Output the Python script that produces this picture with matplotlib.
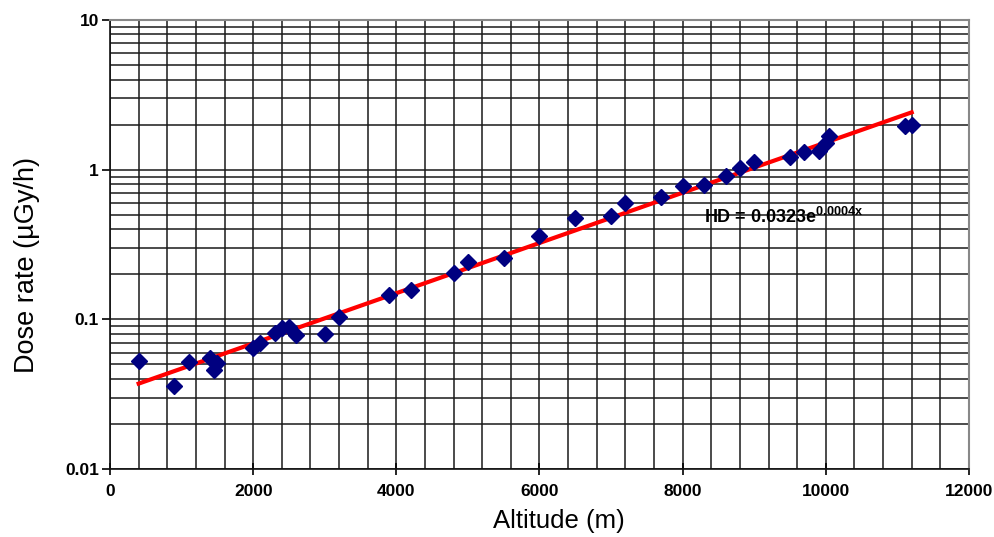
import numpy as np
import matplotlib
matplotlib.use('Agg')
import matplotlib.pyplot as plt
from matplotlib.ticker import MultipleLocator, LogLocator, FixedLocator, NullFormatter

plt.rcParams['font.family'] = ['Liberation Sans', 'DejaVu Sans']

# measured dose rate against flight altitude
altitude = [400, 900, 1100, 1400, 1450, 1500, 2000, 2100, 2300, 2400, 2500, 2600,
            3000, 3200, 3900, 4200, 4800, 5000, 5500, 6000, 6500, 7000, 7200, 7700,
            8000, 8300, 8600, 8800, 9000, 9500, 9700, 9900, 10000, 10050, 11100, 11200]
dose = [0.053, 0.036, 0.052, 0.055, 0.046, 0.051, 0.064, 0.070, 0.081, 0.088, 0.089, 0.079,
        0.080, 0.104, 0.146, 0.157, 0.204, 0.241, 0.257, 0.36, 0.475, 0.49, 0.60, 0.656,
        0.78, 0.79, 0.91, 1.02, 1.12, 1.21, 1.31, 1.33, 1.51, 1.68, 1.96, 1.99]

x_ticks = [0, 2000, 4000, 6000, 8000, 10000, 12000]
y_ticks = [0.01, 0.1, 1, 10]
y_tick_labels = ['0.01', '0.1', '1', '10']

# exponential trend line, fitted in log space
alt = np.array(altitude, dtype=float)
b, ln_a = np.polyfit(alt, np.log(dose), 1)
a = np.exp(ln_a)
x_fit = np.linspace(alt.min(), alt.max(), 200)
y_fit = a * np.exp(b * x_fit)

fig = plt.figure(figsize=(9.95, 5.37), dpi=100)
ax = fig.add_axes([0.1106, 0.1266, 0.8632, 0.8362])

ax.set_yscale('log')
ax.set_xlim(0, 12000)
ax.set_ylim(0.01, 10)

ax.xaxis.set_major_locator(FixedLocator(x_ticks))
ax.xaxis.set_minor_locator(MultipleLocator(400))
ax.yaxis.set_major_locator(FixedLocator(y_ticks))
ax.yaxis.set_minor_locator(LogLocator(base=10, subs=np.arange(2, 10)))
ax.yaxis.set_minor_formatter(NullFormatter())
ax.set_yticklabels(y_tick_labels)

ax.grid(True, which='both', color='#1a1a1a', linewidth=1.1)
ax.set_axisbelow(True)

ax.plot(x_fit, y_fit, color='#ff0000', linewidth=3, zorder=3)
ax.plot(altitude, dose, linestyle='none', marker='D', markersize=8,
        color='#000080', zorder=4)

ax.text(8300, 0.48, 'HD = 0.0323e$^{\\mathregular{0.0004x}}$', fontsize=13,
        fontweight='bold', ha='left', va='center', zorder=5)

for side in ['top', 'right']:
    ax.spines[side].set_color('#888888')
    ax.spines[side].set_linewidth(1.5)
for side in ['left', 'bottom']:
    ax.spines[side].set_color('#111111')
    ax.spines[side].set_linewidth(1.2)

ax.tick_params(axis='x', which='major', direction='inout', length=8, width=1.2, pad=7)
ax.tick_params(axis='y', which='major', direction='out', length=6, width=1.2, pad=2)
ax.tick_params(which='minor', length=0)
for lbl in ax.get_xticklabels() + ax.get_yticklabels():
    lbl.set_fontweight('bold')
    lbl.set_fontsize(12.5)

ax.set_xlabel('Altitude (m)', fontsize=18.5)
ax.set_ylabel('Dose rate (µGy/h)', fontsize=19.5)
ax.xaxis.set_label_coords(0.523, -0.088)
ax.yaxis.set_label_coords(-0.082, 0.454)

fig.savefig('out.png', dpi=100)
